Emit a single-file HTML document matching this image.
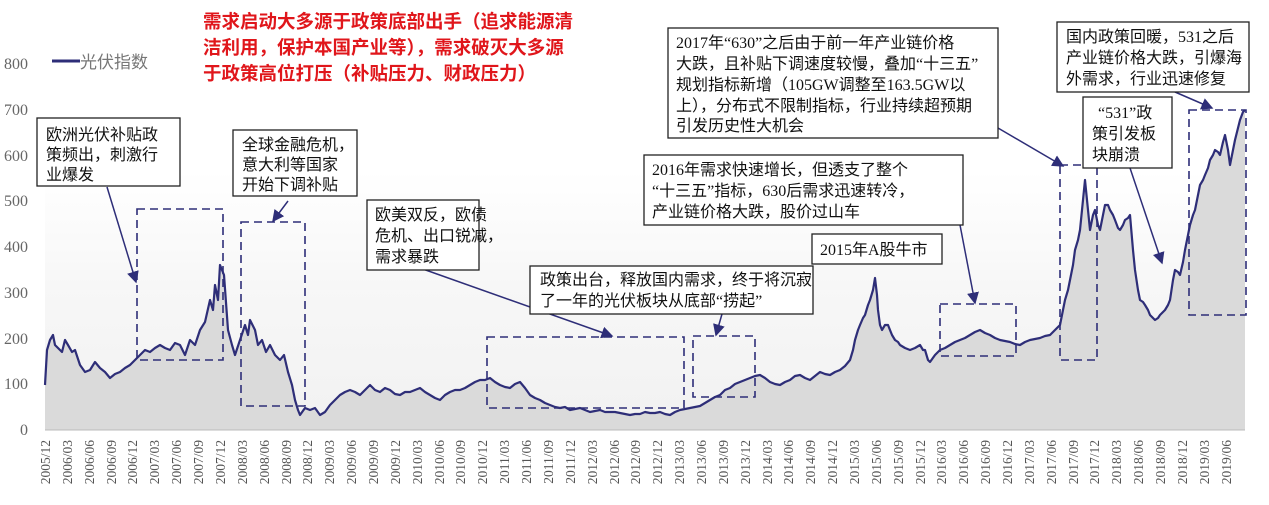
<!DOCTYPE html>
<html><head><meta charset="utf-8"><style>
body{margin:0;background:#fff;}
svg{display:block;}
.box{font-family:"Liberation Serif","Noto Sans CJK SC",serif;font-size:16px;fill:#111;}
.xl{font-family:"Liberation Serif",serif;font-size:13.5px;fill:#555;}
.yl{font-family:"Liberation Serif",serif;font-size:16px;fill:#666;}
</style></head><body>
<svg width="1269" height="505" viewBox="0 0 1269 505" xmlns="http://www.w3.org/2000/svg">
<defs>
<linearGradient id="g" x1="0" y1="0" x2="0" y2="1"><stop offset="0" stop-color="#fff"/><stop offset="0.45" stop-color="#e8e8e8"/><stop offset="1" stop-color="#d8d8d8"/></linearGradient>
<marker id="ar" markerWidth="8" markerHeight="8" refX="7" refY="4" orient="auto"><path d="M0,0 L8,4 L0,8 z" fill="#2e2e78"/></marker>
</defs>
<rect x="45" y="170" width="1200" height="260" fill="url(#g)" opacity="0.35"/>
<g id="series">
<polygon fill="#dadada" points="45,430 45,385 47,350 50,340 53,335 55,345 60,350 62,352 65,340 68,345 72,352 75,350 80,365 85,372 90,370 95,362 100,368 105,372 110,378 115,374 120,372 125,368 130,365 135,360 140,355 145,350 150,352 155,348 160,345 165,348 170,350 175,343 180,345 185,355 190,340 195,345 200,330 205,322 210,300 213,310 215,285 218,300 220,265 224,275 228,330 232,345 235,355 240,340 245,325 248,335 250,320 255,330 258,345 262,340 266,352 270,345 275,355 280,360 284,355 288,372 292,385 295,400 298,410 300,415 305,408 310,410 315,408 320,415 325,412 330,405 335,400 340,395 345,392 350,390 355,392 360,395 365,390 370,385 375,390 380,392 385,388 390,390 395,394 400,395 405,392 410,392 415,390 420,388 425,392 430,395 435,398 440,400 445,395 450,392 455,390 460,390 465,388 470,385 475,382 480,380 485,380 490,378 495,382 500,385 505,387 510,388 515,384 520,382 525,388 530,395 535,398 540,400 545,403 550,405 555,407 560,408 565,407 570,410 575,409 580,408 585,410 590,412 595,411 600,410 605,412 610,412 615,412 620,413 625,414 630,415 635,414 640,414 645,412 650,413 655,413 660,412 665,414 670,415 675,412 680,410 685,409 690,408 695,407 700,406 705,403 710,400 715,397 720,395 725,390 730,388 735,384 740,382 745,380 750,378 755,376 760,375 765,378 770,382 775,384 780,385 785,382 790,380 795,376 800,375 805,378 810,380 815,376 820,372 825,374 830,375 835,372 840,370 845,366 850,360 853,350 855,340 858,330 860,325 863,318 865,315 868,305 870,300 873,290 875,278 877,295 878,310 880,325 882,330 885,325 888,325 892,335 895,340 898,342 900,345 905,348 910,350 915,348 920,345 923,350 925,350 928,360 930,362 935,355 938,352 940,350 945,348 950,345 955,342 960,340 965,338 970,335 975,332 980,330 985,333 990,335 995,338 1000,340 1005,341 1010,342 1015,344 1020,345 1025,342 1030,340 1035,339 1040,338 1045,336 1050,335 1055,330 1060,325 1063,310 1065,300 1068,290 1070,280 1073,265 1075,250 1078,240 1080,230 1083,200 1085,180 1088,210 1090,230 1093,215 1095,210 1098,225 1100,230 1103,215 1105,205 1108,205 1110,210 1113,215 1115,220 1118,228 1120,230 1123,225 1125,220 1128,218 1130,215 1133,250 1135,270 1138,290 1140,300 1143,302 1145,305 1148,310 1150,315 1153,318 1155,320 1158,318 1160,315 1163,312 1165,310 1168,305 1170,300 1173,280 1175,270 1178,272 1180,275 1183,262 1185,250 1188,235 1190,225 1193,215 1195,210 1198,195 1200,185 1203,180 1205,175 1208,168 1210,160 1213,155 1215,150 1218,152 1220,155 1223,142 1225,135 1228,150 1230,165 1233,150 1235,140 1238,128 1240,120 1243,112 1245,110 1245,430"/>
<polyline fill="none" stroke="#2e2e78" stroke-width="2.2" stroke-linejoin="round" points="45,385 47,350 50,340 53,335 55,345 60,350 62,352 65,340 68,345 72,352 75,350 80,365 85,372 90,370 95,362 100,368 105,372 110,378 115,374 120,372 125,368 130,365 135,360 140,355 145,350 150,352 155,348 160,345 165,348 170,350 175,343 180,345 185,355 190,340 195,345 200,330 205,322 210,300 213,310 215,285 218,300 220,265 224,275 228,330 232,345 235,355 240,340 245,325 248,335 250,320 255,330 258,345 262,340 266,352 270,345 275,355 280,360 284,355 288,372 292,385 295,400 298,410 300,415 305,408 310,410 315,408 320,415 325,412 330,405 335,400 340,395 345,392 350,390 355,392 360,395 365,390 370,385 375,390 380,392 385,388 390,390 395,394 400,395 405,392 410,392 415,390 420,388 425,392 430,395 435,398 440,400 445,395 450,392 455,390 460,390 465,388 470,385 475,382 480,380 485,380 490,378 495,382 500,385 505,387 510,388 515,384 520,382 525,388 530,395 535,398 540,400 545,403 550,405 555,407 560,408 565,407 570,410 575,409 580,408 585,410 590,412 595,411 600,410 605,412 610,412 615,412 620,413 625,414 630,415 635,414 640,414 645,412 650,413 655,413 660,412 665,414 670,415 675,412 680,410 685,409 690,408 695,407 700,406 705,403 710,400 715,397 720,395 725,390 730,388 735,384 740,382 745,380 750,378 755,376 760,375 765,378 770,382 775,384 780,385 785,382 790,380 795,376 800,375 805,378 810,380 815,376 820,372 825,374 830,375 835,372 840,370 845,366 850,360 853,350 855,340 858,330 860,325 863,318 865,315 868,305 870,300 873,290 875,278 877,295 878,310 880,325 882,330 885,325 888,325 892,335 895,340 898,342 900,345 905,348 910,350 915,348 920,345 923,350 925,350 928,360 930,362 935,355 938,352 940,350 945,348 950,345 955,342 960,340 965,338 970,335 975,332 980,330 985,333 990,335 995,338 1000,340 1005,341 1010,342 1015,344 1020,345 1025,342 1030,340 1035,339 1040,338 1045,336 1050,335 1055,330 1060,325 1063,310 1065,300 1068,290 1070,280 1073,265 1075,250 1078,240 1080,230 1083,200 1085,180 1088,210 1090,230 1093,215 1095,210 1098,225 1100,230 1103,215 1105,205 1108,205 1110,210 1113,215 1115,220 1118,228 1120,230 1123,225 1125,220 1128,218 1130,215 1133,250 1135,270 1138,290 1140,300 1143,302 1145,305 1148,310 1150,315 1153,318 1155,320 1158,318 1160,315 1163,312 1165,310 1168,305 1170,300 1173,280 1175,270 1178,272 1180,275 1183,262 1185,250 1188,235 1190,225 1193,215 1195,210 1198,195 1200,185 1203,180 1205,175 1208,168 1210,160 1213,155 1215,150 1218,152 1220,155 1223,142 1225,135 1228,150 1230,165 1233,150 1235,140 1238,128 1240,120 1243,112 1245,110"/>
</g>
<line x1="45" y1="430" x2="1245" y2="430" stroke="#bbb" stroke-width="1"/>
<g class="yl" text-anchor="end">
<text x="28" y="69">800</text><text x="28" y="115">700</text><text x="28" y="161">600</text><text x="28" y="206">500</text><text x="28" y="252">400</text><text x="28" y="298">300</text><text x="28" y="344">200</text><text x="28" y="389">100</text><text x="28" y="435">0</text>
</g>
<g class="xl" text-anchor="end">
<text transform="translate(50,440) rotate(-90)">2005/12</text>
<text transform="translate(72,440) rotate(-90)">2006/03</text>
<text transform="translate(94,440) rotate(-90)">2006/06</text>
<text transform="translate(116,440) rotate(-90)">2006/09</text>
<text transform="translate(137,440) rotate(-90)">2006/12</text>
<text transform="translate(159,440) rotate(-90)">2007/03</text>
<text transform="translate(181,440) rotate(-90)">2007/06</text>
<text transform="translate(203,440) rotate(-90)">2007/09</text>
<text transform="translate(225,440) rotate(-90)">2007/12</text>
<text transform="translate(247,440) rotate(-90)">2008/03</text>
<text transform="translate(269,440) rotate(-90)">2008/06</text>
<text transform="translate(291,440) rotate(-90)">2008/09</text>
<text transform="translate(312,440) rotate(-90)">2008/12</text>
<text transform="translate(334,440) rotate(-90)">2009/03</text>
<text transform="translate(356,440) rotate(-90)">2009/06</text>
<text transform="translate(378,440) rotate(-90)">2009/09</text>
<text transform="translate(400,440) rotate(-90)">2009/12</text>
<text transform="translate(422,440) rotate(-90)">2010/03</text>
<text transform="translate(444,440) rotate(-90)">2010/06</text>
<text transform="translate(465,440) rotate(-90)">2010/09</text>
<text transform="translate(487,440) rotate(-90)">2010/12</text>
<text transform="translate(509,440) rotate(-90)">2011/03</text>
<text transform="translate(531,440) rotate(-90)">2011/06</text>
<text transform="translate(553,440) rotate(-90)">2011/09</text>
<text transform="translate(575,440) rotate(-90)">2011/12</text>
<text transform="translate(597,440) rotate(-90)">2012/03</text>
<text transform="translate(619,440) rotate(-90)">2012/06</text>
<text transform="translate(640,440) rotate(-90)">2012/09</text>
<text transform="translate(662,440) rotate(-90)">2012/12</text>
<text transform="translate(684,440) rotate(-90)">2013/03</text>
<text transform="translate(706,440) rotate(-90)">2013/06</text>
<text transform="translate(728,440) rotate(-90)">2013/09</text>
<text transform="translate(750,440) rotate(-90)">2013/12</text>
<text transform="translate(772,440) rotate(-90)">2014/03</text>
<text transform="translate(793,440) rotate(-90)">2014/06</text>
<text transform="translate(815,440) rotate(-90)">2014/09</text>
<text transform="translate(837,440) rotate(-90)">2014/12</text>
<text transform="translate(859,440) rotate(-90)">2015/03</text>
<text transform="translate(881,440) rotate(-90)">2015/06</text>
<text transform="translate(903,440) rotate(-90)">2015/09</text>
<text transform="translate(925,440) rotate(-90)">2015/12</text>
<text transform="translate(946,440) rotate(-90)">2016/03</text>
<text transform="translate(968,440) rotate(-90)">2016/06</text>
<text transform="translate(990,440) rotate(-90)">2016/09</text>
<text transform="translate(1012,440) rotate(-90)">2016/12</text>
<text transform="translate(1034,440) rotate(-90)">2017/03</text>
<text transform="translate(1056,440) rotate(-90)">2017/06</text>
<text transform="translate(1078,440) rotate(-90)">2017/09</text>
<text transform="translate(1099,440) rotate(-90)">2017/12</text>
<text transform="translate(1121,440) rotate(-90)">2018/03</text>
<text transform="translate(1143,440) rotate(-90)">2018/06</text>
<text transform="translate(1165,440) rotate(-90)">2018/09</text>
<text transform="translate(1187,440) rotate(-90)">2018/12</text>
<text transform="translate(1209,440) rotate(-90)">2019/03</text>
<text transform="translate(1231,440) rotate(-90)">2019/06</text>
</g>
<!-- legend -->
<line x1="52" y1="61" x2="80" y2="61" stroke="#2e2e78" stroke-width="3"/>
<text x="80" y="68" font-family="Liberation Sans,'Noto Sans CJK SC',sans-serif" font-size="17" fill="#777">光伏指数</text>
<!-- red title -->
<g font-family="Liberation Sans,'Noto Sans CJK SC',sans-serif" font-size="18.5" font-weight="bold" fill="#e0161b">
<text x="203" y="28">需求启动大多源于政策底部出手（追求能源清</text>
<text x="203" y="54">洁利用，保护本国产业等），需求破灭大多源</text>
<text x="203" y="80">于政策高位打压（补贴压力、财政压力）</text>
</g>
<!-- dashed boxes -->
<g fill="none" stroke="#2e2e78" stroke-width="1.6" stroke-dasharray="8,5">
<rect x="137" y="209" width="86" height="151"/>
<rect x="241" y="222" width="64" height="184"/>
<rect x="487" y="337" width="197" height="71"/>
<rect x="693" y="336" width="62" height="61"/>
<rect x="940" y="304" width="76" height="52"/>
<rect x="1060" y="165" width="37" height="195"/>
<rect x="1189" y="110" width="57" height="205"/>
</g>
<!-- arrows -->
<g stroke="#2e2e78" stroke-width="1.5" fill="none" marker-end="url(#ar)">
<line x1="107" y1="187" x2="136" y2="282"/>
<line x1="288" y1="201" x2="273" y2="221"/>
<line x1="420" y1="268" x2="612" y2="336"/>
<line x1="722" y1="314" x2="716" y2="335"/>
<line x1="960" y1="225" x2="975" y2="303"/>
<line x1="998" y1="128" x2="1063" y2="166"/>
<line x1="1130" y1="168" x2="1162" y2="263"/>
<line x1="1175" y1="92" x2="1212" y2="108"/>
</g>
<!-- callouts -->
<g fill="#fff" stroke="#222" stroke-width="1.3">
<rect x="37" y="118" width="143" height="68"/>
<rect x="233" y="130" width="124" height="66"/>
<rect x="367" y="200" width="112" height="70"/>
<rect x="530" y="266" width="283" height="48"/>
<rect x="644" y="155" width="319" height="70"/>
<rect x="812" y="234" width="130" height="30"/>
<rect x="668" y="28" width="330" height="110"/>
<rect x="1083" y="97" width="89" height="71"/>
<rect x="1057" y="22" width="192" height="70"/>
</g>
<g class="box">
<text x="46" y="140">欧洲光伏补贴政</text><text x="46" y="160">策频出，刺激行</text><text x="46" y="180">业爆发</text>
<text x="242" y="150">全球金融危机，</text><text x="242" y="170">意大利等国家</text><text x="242" y="190">开始下调补贴</text>
<text x="375" y="220">欧美双反，欧债</text><text x="375" y="241">危机、出口锐减，</text><text x="375" y="262">需求暴跌</text>
<text x="540" y="285">政策出台，释放国内需求，终于将沉寂</text><text x="540" y="306">了一年的光伏板块从底部“捞起”</text>
<text x="652" y="175">2016年需求快速增长，但透支了整个</text><text x="652" y="196">“十三五”指标，630后需求迅速转冷，</text><text x="652" y="217">产业链价格大跌，股价过山车</text>
<text x="820" y="255">2015年A股牛市</text>
<text x="676" y="48">2017年“630”之后由于前一年产业链价格</text><text x="676" y="69">大跌，且补贴下调速度较慢，叠加“十三五”</text><text x="676" y="90">规划指标新增（105GW调整至163.5GW以</text><text x="676" y="111">上），分布式不限制指标，行业持续超预期</text><text x="676" y="131">引发历史性大机会</text>
<text x="1098" y="118">“531”政</text><text x="1092" y="139">策引发板</text><text x="1092" y="160">块崩溃</text>
<text x="1066" y="42">国内政策回暖，531之后</text><text x="1066" y="63">产业链价格大跌，引爆海</text><text x="1066" y="84">外需求，行业迅速修复</text>
</g>
</svg>
</body></html>
